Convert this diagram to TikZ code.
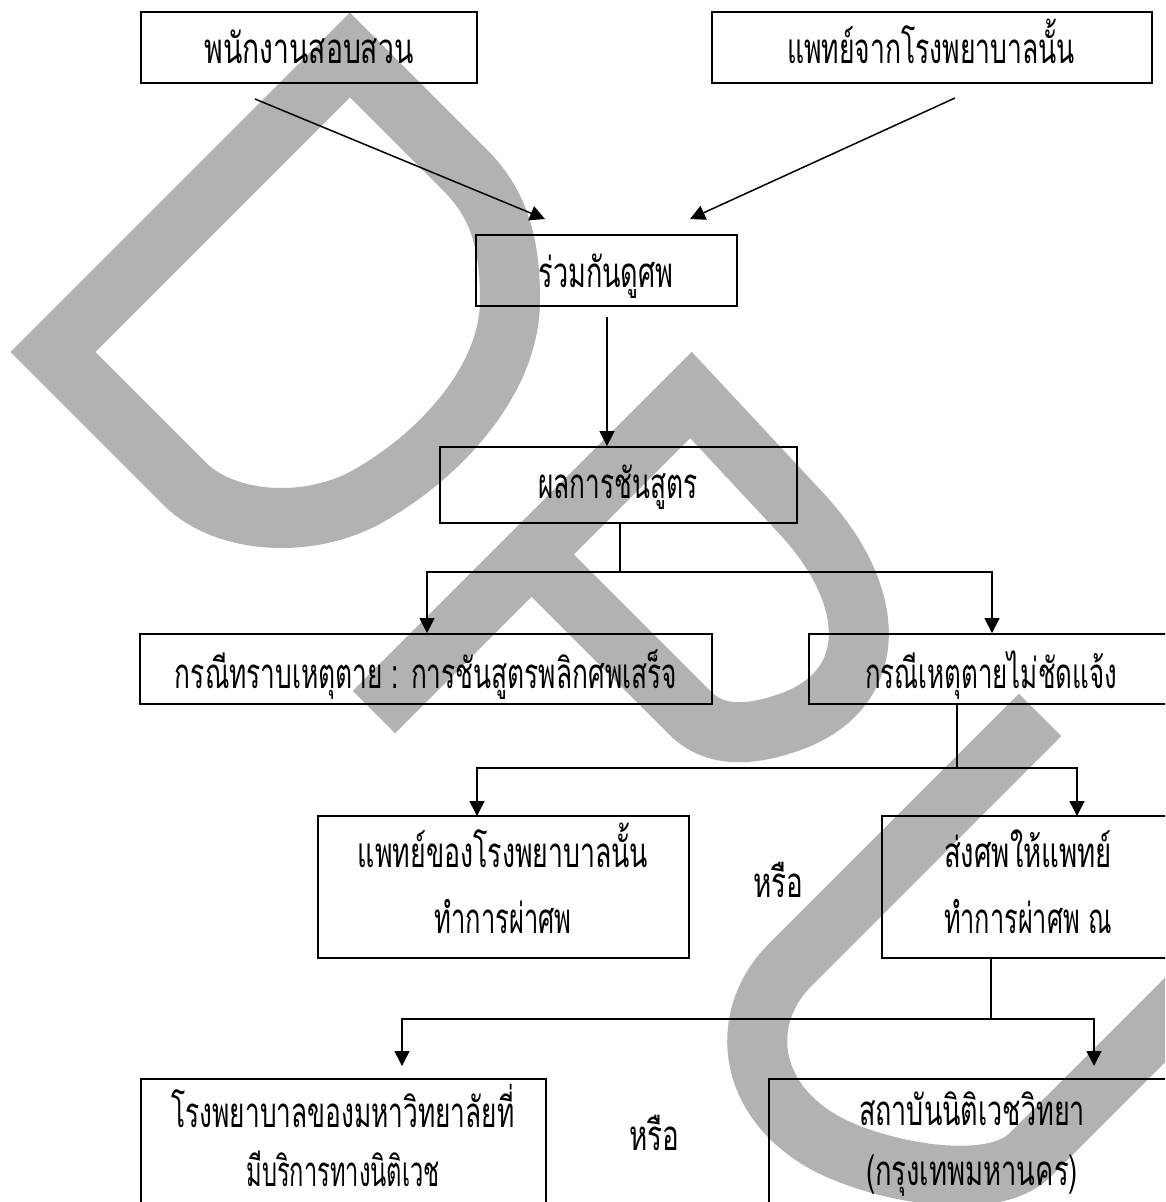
\documentclass[tikz,border=0pt]{standalone}
\usepackage{fontspec}
\usepackage{graphicx}
\newfontfamily\thaifont[Script=Thai]{Loma}
\usetikzlibrary{arrows.meta}
\definecolor{wmgray}{RGB}{178,178,178}
\newcommand\tw[2]{\resizebox{#1}{\height}{\thaifont\fontsize{42}{50}\selectfont #2}}
\begin{document}
\begin{tikzpicture}[x=1pt,y=-1pt,
  box/.style={draw, line width=1.8pt, inner sep=0pt},
  txt/.style={anchor=base, inner sep=0pt},
  ln/.style={line width=1.5pt},
  arr/.style={ln, -{Triangle[length=15pt,width=15pt]}},
  wm/.style={draw=wmgray, line width=60pt, line join=miter}]
\useasboundingbox (0,0) rectangle (1165,1202);
\clip (0,0) rectangle (1165,1202);
% watermark
\draw[wm] (350,55) -- (53,352) -- (185,484) .. controls (225,524) and (310,530) .. (370,495) .. controls (440,455) and (510,380) .. (510,300) .. controls (510,245) and (500,205) .. (465,170) -- cycle;
\draw[wm] (374,712) -- (691,395) -- (800,512) .. controls (880,597) and (880,690) .. (790,722) .. controls (750,736) and (715,738) .. (690,713) -- (532,555);
\draw[wm] (1040,715) -- (790,965) .. controls (740,1015) and (745,1095) .. (820,1140) .. controls (870,1170) and (990,1195) .. (1030,1155) -- (1230,955);
% boxes
\node[box, minimum width=336pt, minimum height=71pt] (b1) at (309,47.5) {};
\node[box, minimum width=440pt, minimum height=71pt] (b2) at (932,47.5) {};
\node[box, minimum width=261pt, minimum height=71pt] (b3) at (606.5,270.5) {};
\node[box, minimum width=357pt, minimum height=76pt] (b4) at (618.5,485) {};
\node[box, minimum width=572pt, minimum height=70pt] (b5) at (426,669) {};
\node[box, minimum width=364pt, minimum height=70pt] (b6) at (991,669) {};
\node[box, minimum width=371pt, minimum height=142pt] (b7) at (503.5,887) {};
\node[box, minimum width=292pt, minimum height=142pt] (b8) at (1028,887) {};
\node[box, minimum width=405pt, minimum height=142pt] (b9) at (343.5,1150) {};
\node[box, minimum width=406pt, minimum height=142pt] (b10) at (972,1150) {};
% texts
\node[txt] (t1) at (309,63) {\tw{209pt}{พนักงานสอบสวน}};
\node[txt] (t2) at (931,63) {\tw{288pt}{แพทย์จากโรงพยาบาลนั้น}};
\node[txt] (t3) at (606,287) {\tw{135pt}{ร่วมกันดูศพ}};
\node[txt] (t4) at (618,498) {\tw{159pt}{ผลการชันสูตร}};
\node[txt] (t5) at (426,688) {\tw{502pt}{กรณีทราบเหตุตาย : การชันสูตรพลิกศพเสร็จ}};
\node[txt] (t6) at (991,688) {\tw{252pt}{กรณีเหตุตายไม่ชัดแจ้ง}};
\node[txt] (t7a) at (503,867) {\tw{290pt}{แพทย์ของโรงพยาบาลนั้น}};
\node[txt] (t7b) at (503,933) {\tw{137pt}{ทำการผ่าศพ}};
\node[txt] (t8a) at (1028,867) {\tw{168pt}{ส่งศพให้แพทย์}};
\node[txt] (t8b) at (1028,933) {\tw{168pt}{ทำการผ่าศพ ณ}};
\node[txt] (or1) at (778,897) {\tw{50pt}{หรือ}};
\node[txt] (t9a) at (343,1127) {\tw{343pt}{โรงพยาบาลของมหาวิทยาลัยที่}};
\node[txt] (t9b) at (343,1186) {\tw{193pt}{มีบริการทางนิติเวช}};
\node[txt] (t10a) at (972,1125) {\tw{226pt}{สถาบันนิติเวชวิทยา}};
\node[txt] (t10b) at (972,1185) {\tw{212pt}{(กรุงเทพมหานคร)}};
\node[txt] (or2) at (654,1150) {\tw{50pt}{หรือ}};
% connectors
\coordinate (a1s) at (255,99); \coordinate (a1e) at (545,219);
\draw[arr] (a1s) -- (a1e);
\coordinate (a2s) at (955,98); \coordinate (a2e) at (690,219);
\draw[arr] (a2s) -- (a2e);
\coordinate (a3s) at (607,317);
\draw[arr] (a3s) -- (a3s |- b4.north);
\coordinate (j1) at (620,572);
\draw[ln] (j1 |- b4.south) -- (j1);
\draw[arr] (j1) -| ([xshift=1pt]b5.north);
\draw[arr] (j1) -| ([xshift=1pt]b6.north);
\coordinate (j2) at (957,768);
\draw[ln] (j2 |- b6.south) -- (j2);
\coordinate (e7) at (477,816); \coordinate (e8) at (1077,816);
\draw[arr] (j2) -| (e7);
\draw[arr] (j2) -| (e8);
\coordinate (j3) at (991,1019);
\draw[ln] (j3 |- b8.south) -- (j3);
\coordinate (e9) at (402,1066); \coordinate (e10) at (1094,1066);
\draw[arr] (j3) -| (e9);
\draw[arr] (j3) -| (e10);
\end{tikzpicture}
\end{document}
